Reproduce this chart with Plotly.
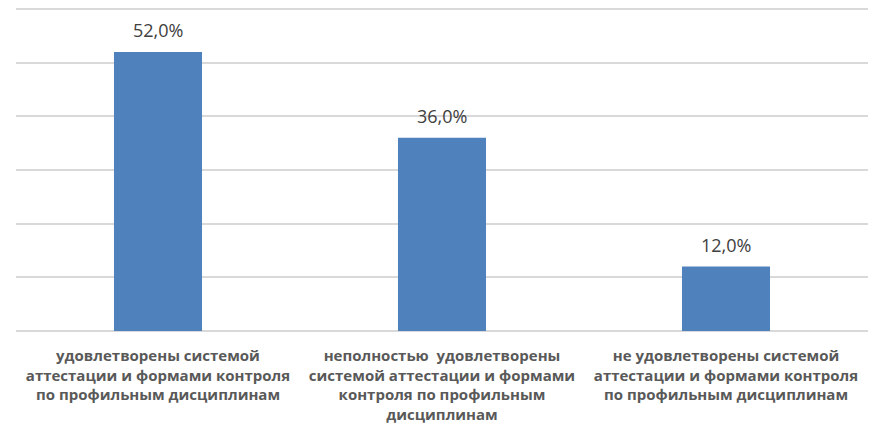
import plotly.graph_objects as go

# data
categories = [
    "удовлетворены системой<br>аттестации и формами контроля<br>по профильным дисциплинам",
    "неполностью\u00a0 удовлетворены<br>системой аттестации и формами<br>контроля по профильным<br>дисциплинам",
    "не удовлетворены системой<br>аттестации и формами контроля<br>по профильным дисциплинам",
]
values = [52.0, 36.0, 12.0]

bar_color = "#4F81BD"
grid_color = "#D9D9D9"

fig = go.Figure()
fig.add_trace(go.Bar(x=categories, y=values, marker_color=bar_color,
                     marker_line_width=0, width=0.31))

# value labels above bars
for c, v in zip(categories, values):
    fig.add_annotation(x=c, y=v, text=f"{v:.1f}%".replace(".", ","),
                       showarrow=False, yanchor="bottom", yshift=8,
                       font=dict(family="Open Sans", size=18, color="#404040"))

# page body has an 8px margin, so the figure is 16px smaller than the window
fig.update_layout(width=862, height=419,
                  margin=dict(l=8, r=2, t=0, b=96),
                  paper_bgcolor="white", plot_bgcolor="white",
                  showlegend=False, bargap=0.69)
fig.update_xaxes(showgrid=False, zeroline=False, showline=False, ticks="",
                 tickangle=0, automargin=False, ticklabelstandoff=14,
                 tickfont=dict(family="Open Sans", size=15, color="#595959",
                               weight="bold"))
fig.update_yaxes(range=[0, 60.2], dtick=10, showticklabels=False,
                 automargin=False,
                 gridcolor=grid_color, gridwidth=2, zeroline=True,
                 zerolinecolor=grid_color, zerolinewidth=2)

fig.write_html("out.html")
